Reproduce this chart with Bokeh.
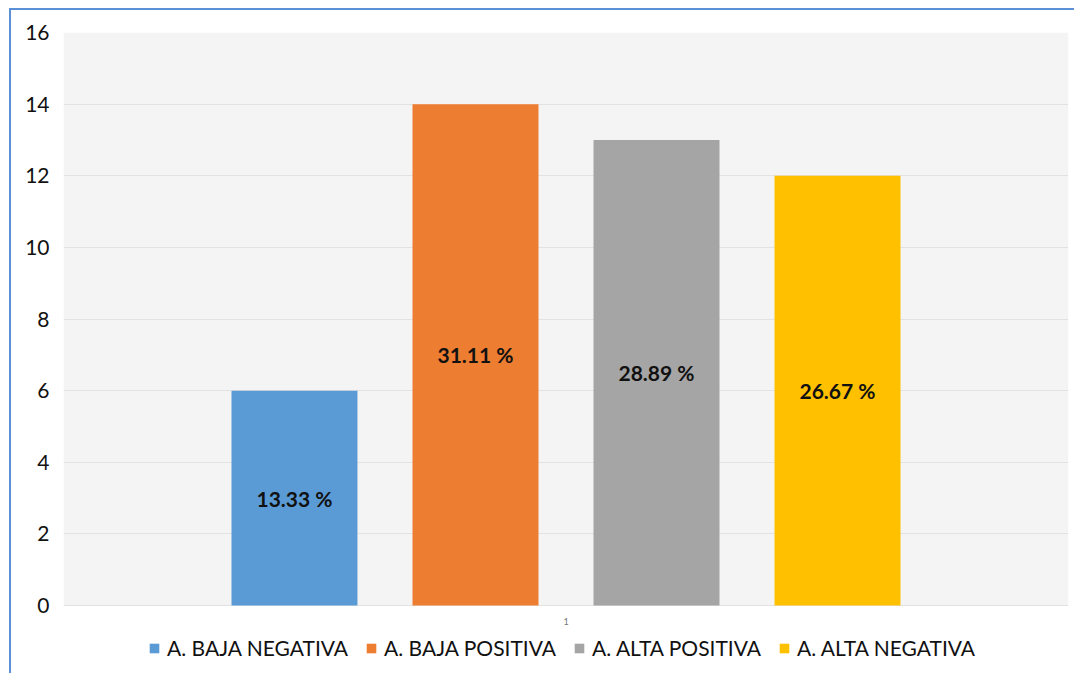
from bokeh.plotting import figure
from bokeh.models import (ColumnDataSource, Range1d, FixedTicker, Legend, LegendItem,
                          LabelSet, Label, BoxAnnotation)
from bokeh.core.properties import value
from bokeh.embed import file_html
from bokeh.resources import INLINE

series = ["A. BAJA NEGATIVA", "A. BAJA POSITIVA", "A. ALTA POSITIVA", "A. ALTA NEGATIVA"]
values = [6, 14, 13, 12]
percent_labels = ["13.33 %", "31.11 %", "28.89 %", "26.67 %"]
colors = ["#5b9bd5", "#ed7d31", "#a5a5a5", "#ffc000"]
category_label = "1"
y_ticks = [0, 2, 4, 6, 8, 10, 12, 14, 16]
y_max = 16

xs = list(range(len(series)))
src = ColumnDataSource(dict(
    x=xs, top=values, mid=[v / 2 for v in values],
    lab=percent_labels, color=colors, name=series))

FONT = "Lato"

# frame extends below the value axis to host the legend
x0, x1 = -1.276, 4.276
px_per_unit = 573 / y_max
p = figure(width=1065, height=665, output_backend="svg", toolbar_location=None,
           x_range=Range1d(x0, x1), y_range=Range1d(-70 / px_per_unit, y_max),
           min_border_left=52, min_border_top=22, min_border_right=8, min_border_bottom=0)
p.styles = {"margin-left": "9px", "margin-top": "8px",
            "border-left": "2px solid #5b8fd6", "border-top": "2px solid #5b8fd6"}

p.background_fill_color = "white"
p.border_fill_color = "white"
p.outline_line_color = None

plot_area = BoxAnnotation(bottom=0, top=y_max, fill_color="#f4f4f4", fill_alpha=1,
                          line_color=None, level="image")
p.add_layout(plot_area)

r = p.vbar(x="x", top="top", width=0.696, color="color", source=src, line_color=None)

labels = LabelSet(x="x", y="mid", text="lab", source=src, text_align="center",
                  text_baseline="middle", text_font=value(FONT), text_font_style="bold",
                  text_font_size="21px", text_color="#111111")
p.add_layout(labels)

p.xgrid.grid_line_color = None
p.ygrid.ticker = FixedTicker(ticks=y_ticks)
p.ygrid.grid_line_color = "#e2e2e2"
p.ygrid.grid_line_width = 1

p.yaxis.ticker = FixedTicker(ticks=y_ticks)
p.yaxis.axis_line_color = None
p.yaxis.major_tick_line_color = None
p.yaxis.minor_tick_line_color = None
p.yaxis.major_tick_out = 0
p.yaxis.major_label_text_font = FONT
p.yaxis.major_label_text_font_size = "21px"
p.yaxis.major_label_text_color = "#111111"
p.yaxis.major_label_standoff = 14

p.xaxis.visible = False

cat = Label(x=(x0 + x1) / 2, y=0, text=category_label, x_offset=0, y_offset=-12,
            text_align="center", text_baseline="top", text_font=FONT,
            text_font_size="9px", text_color="#777777")
p.add_layout(cat)

items = [LegendItem(label=series[i], renderers=[r], index=i) for i in range(len(series))]
legend = Legend(items=items, orientation="horizontal", location=(85, 15),
                label_text_font=FONT, label_text_font_size="21px", label_text_color="#111111",
                glyph_width=12, glyph_height=12, spacing=17, label_standoff=7,
                background_fill_alpha=0, border_line_color=None, padding=0, margin=0)
p.add_layout(legend, "center")

open("out.html", "w").write(file_html(p, INLINE))
